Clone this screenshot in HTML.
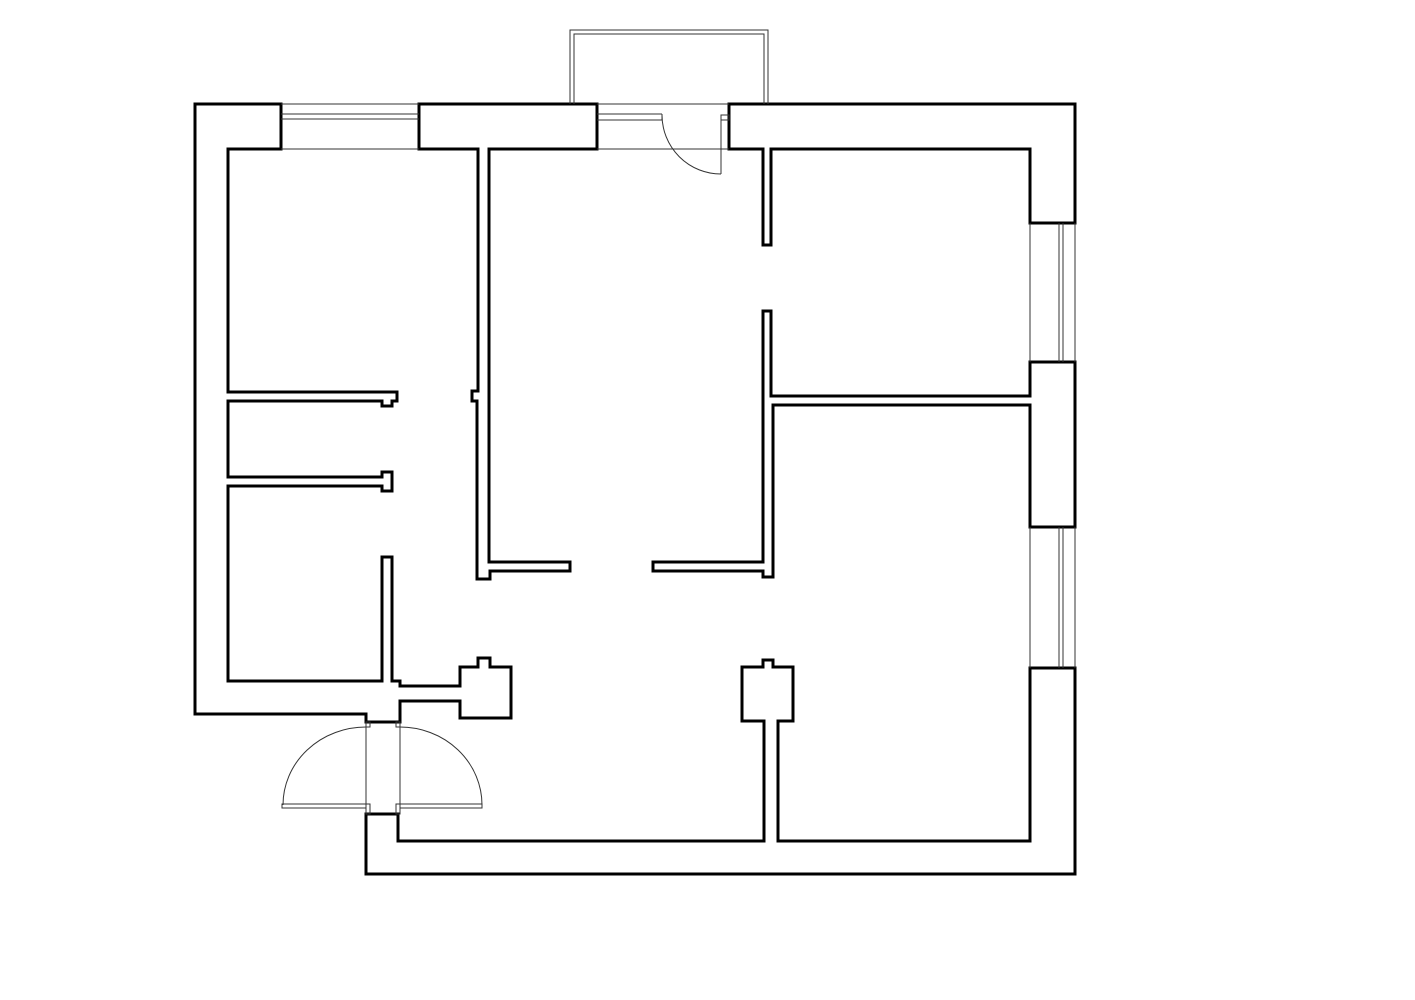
<!DOCTYPE html>
<html><head><meta charset="utf-8"><style>html,body{margin:0;padding:0;background:#fff}svg{display:block}</style></head>
<body>
<svg width="1415" height="1000" viewBox="0 0 1415 1000" xmlns="http://www.w3.org/2000/svg">
<g fill="none" stroke="#000" stroke-width="3" stroke-linejoin="miter">
<polygon points="195,104 281,104 281,149 228,149 228,392 397,392 397,401 392,401 392,406 382,406 382,401 228,401 228,477 382,477 382,472 392,472 392,491 382,491 382,486 228,486 228,681 382,681 382,557 392,557 392,681 400,681 400,686 460,686 460,667 478,667 478,658 490,658 490,667 511,667 511,718 460,718 460,701 400,701 400,722 366,722 366,714 195,714"/>
<polygon points="419,104 597,104 597,149 489,149 489,562 570,562 570,571 490,571 490,579 477,579 477,401 472,401 472,391 478,391 478,149 419,149"/>
<polygon points="729,104 1075,104 1075,223 1030,223 1030,149 771,149 771,245 763,245 763,149 729,149"/>
<polygon points="763,311 771,311 771,396 1030,396 1030,362 1075,362 1075,527 1030,527 1030,405 773,405 773,577 763,577 763,571 653,571 653,562 763,562"/>
<polygon points="1030,668 1075,668 1075,874 366,874 366,814 398,814 398,841 764,841 764,721 742,721 742,667 763,667 763,660 773,660 773,667 793,667 793,721 778,721 778,841 1030,841"/>
</g>
<g fill="none" stroke="#333" stroke-width="1">
<!-- top-left window -->
<line x1="281" y1="104" x2="419" y2="104"/>
<line x1="281" y1="114" x2="419" y2="114"/>
<line x1="281" y1="119" x2="419" y2="119"/>
<line x1="281" y1="149" x2="419" y2="149"/>
<!-- balcony -->
<polyline points="570,104 570,30 768,30 768,104"/>
<polyline points="574,104 574,34 764,34 764,104"/>
<!-- balcony door -->
<line x1="597" y1="104" x2="729" y2="104"/>
<line x1="597" y1="114" x2="662" y2="114"/>
<line x1="597" y1="120" x2="662" y2="120"/>
<line x1="662" y1="114" x2="662" y2="120"/>
<line x1="597" y1="149" x2="729" y2="149"/>
<rect x="721" y="115" width="8" height="5"/>
<line x1="721" y1="115" x2="721" y2="174"/>
<path d="M662,115 A59,59 0 0 0 721,174"/>
<!-- right windows -->
<line x1="1030" y1="223" x2="1030" y2="362"/>
<line x1="1059" y1="223" x2="1059" y2="362"/>
<line x1="1063" y1="223" x2="1063" y2="362"/>
<line x1="1075" y1="223" x2="1075" y2="362"/>
<line x1="1030" y1="527" x2="1030" y2="668"/>
<line x1="1059" y1="527" x2="1059" y2="668"/>
<line x1="1063" y1="527" x2="1063" y2="668"/>
<line x1="1075" y1="527" x2="1075" y2="668"/>
<!-- entrance doors -->
<line x1="366" y1="722" x2="366" y2="814"/>
<line x1="400" y1="722" x2="400" y2="814"/>
<rect x="366" y="722" width="4" height="5"/>
<rect x="396" y="722" width="4" height="5"/>
<rect x="366" y="804" width="4" height="10"/>
<rect x="396" y="804" width="4" height="10"/>
<rect x="282" y="804" width="84" height="4"/>
<rect x="400" y="804" width="82" height="4"/>
<path d="M283,805 A83,78 0 0 1 366,727"/>
<path d="M400,727 A82,78 0 0 1 482,805"/>
</g>
</svg>
</body></html>
